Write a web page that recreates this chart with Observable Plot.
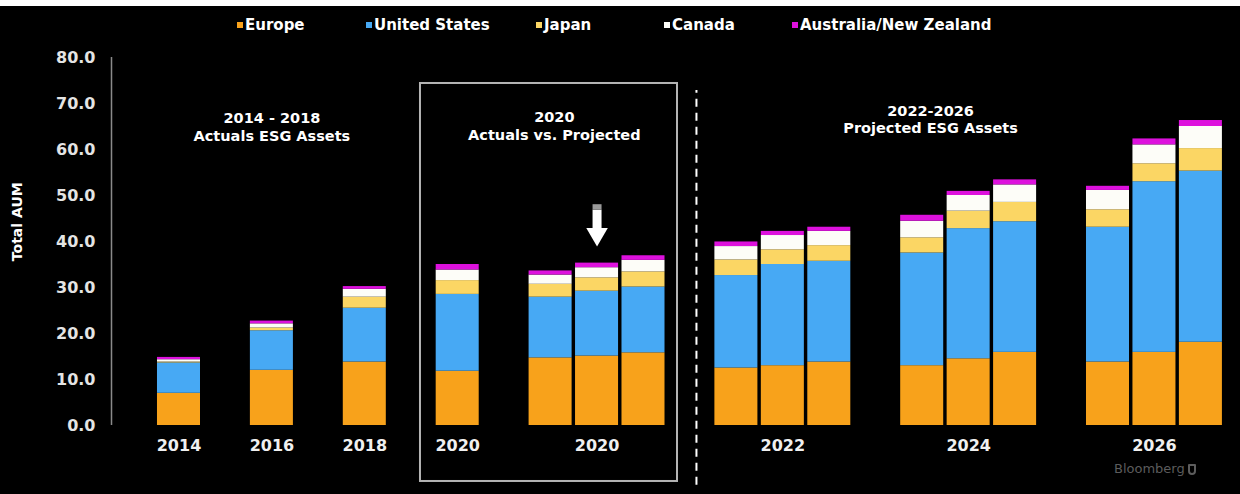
<!DOCTYPE html>
<html>
<head>
<meta charset="utf-8">
<script src="https://cdn.jsdelivr.net/npm/d3@7"></script>
<script src="https://cdn.jsdelivr.net/npm/@observablehq/plot@0.6"></script>
<style>
  html, body { margin: 0; padding: 0; background: #000; width: 1240px; height: 494px; overflow: hidden; }
  #strip { height: 6px; background: #fff; }
  #legend { position: relative; height: 34px; font-family: "DejaVu Sans", sans-serif; font-weight: bold; font-size: 15px; color: #fff; }
  .item { position: absolute; top: 11px; line-height: 16px; white-space: nowrap; }
  .sw { display: inline-block; width: 6px; height: 6px; margin-right: 2px; vertical-align: 2px; }
  #chart { position: relative; }
  #credit { position: absolute; left: 1114px; top: 461px; font-family: "DejaVu Sans", sans-serif; font-size: 13px; color: #5c5c5c; white-space: nowrap; }
  #credit span { display: inline-block; width: 8px; height: 11px; border: 2px solid #5c5c5c; border-radius: 1px 1px 4px 4px; margin-left: 3px; vertical-align: -2px; box-sizing: border-box; }
</style>
</head>
<body>
<div id="strip"></div>
<div id="legend"></div>
<div id="chart"></div>
<div id="credit">Bloomberg<span></span></div>
<script>
// ---- data ----
const seriesNames = ["Europe", "United States", "Japan", "Canada", "Australia/New Zealand"];
const seriesColors = ["#F8A21B", "#47A9F4", "#FBD664", "#FDFDF8", "#DD11DD"];

const bars     = ["2014", "2016", "2018", "2020", "2020 P1", "2020 P2", "2020 P3",
                  "2022 A", "2022 B", "2022 C", "2024 A", "2024 B", "2024 C", "2026 A", "2026 B", "2026 C"];
const barGroup = ["2014", "2016", "2018", "2020", "2020p", "2020p", "2020p",
                  "2022", "2022", "2022", "2024", "2024", "2024", "2026", "2026", "2026"];
const groupIds    = ["2014", "2016", "2018", "2020", "2020p", "2022", "2024", "2026"];
const groupLabels = ["2014", "2016", "2018", "2020", "2020", "2022", "2024", "2026"];

const europe       = [7.0, 12.0, 13.8, 11.8, 14.7, 15.1, 15.8, 12.5, 13.0, 13.8, 13.0, 14.5, 15.9, 13.8, 15.9, 18.1];
const unitedStates = [6.6,  8.6, 11.7, 16.7, 13.2, 14.1, 14.3, 20.1, 22.0, 21.9, 24.5, 28.3, 28.4, 29.3, 37.1, 37.2];
const japan        = [0.2,  0.6,  2.4,  3.0,  2.8,  2.9,  3.3,  3.4,  3.2,  3.4,  3.3,  3.8,  4.2,  3.8,  3.9,  4.9];
const canada       = [0.5,  0.9,  1.7,  2.3,  2.0,  2.2,  2.5,  2.9,  3.1,  3.1,  3.6,  3.4,  3.8,  4.2,  4.1,  4.8];
const ausNz        = [0.5,  0.6,  0.6,  1.2,  0.9,  1.0,  1.0,  1.0,  0.9,  0.9,  1.3,  0.9,  1.1,  0.9,  1.3,  1.3];

const yTicks = [0, 10, 20, 30, 40, 50, 60, 70, 80];

const annotations = [
  {x: 2.0,  y: 65.0, text: "2014 - 2018\nActuals ESG Assets"},
  {x: 8.08, y: 65.2, text: "2020\nActuals vs. Projected"},
  {x: 16.18, y: 66.6, text: "2022-2026\nProjected ESG Assets"}
];

// ---- layout helpers (slot index: one empty slot between groups) ----
const slots = [];
{
  let s = -1, prev = null;
  barGroup.forEach(g => { s += (prev === null || g === prev) ? 1 : 2; prev = g; slots.push(s); });
}
const tickSlots = groupIds.map(g => d3.mean(slots.filter((s, i) => barGroup[i] === g)));
const tickLabel = new Map(tickSlots.map((s, i) => [s, groupLabels[i]]));

const seriesValues = [europe, unitedStates, japan, canada, ausNz];
const table = [];
seriesNames.forEach((name, k) => {
  bars.forEach((b, i) => table.push({bar: b, slot: slots[i], series: name, value: seriesValues[k][i]}));
});

const BAR_HALF = 0.463;
const X_MIN = -1.453, X_MAX = 22.465;
const box = [{x1: 5.199, x2: 10.732, y1: -12.17, y2: 74.35}];
const divider = 11.14;
const arrowAt = 9;
const yTitle = [{x: X_MIN, y: 44.3, text: "Total AUM"}];

// ---- legend ----
const legendLeft = [237, 366, 536, 664, 792];
const legend = document.getElementById("legend");
seriesNames.forEach((name, i) => {
  const el = document.createElement("div");
  el.className = "item";
  el.style.left = legendLeft[i] + "px";
  el.innerHTML = `<span class="sw" style="background:${seriesColors[i]}"></span>${name}`;
  legend.appendChild(el);
});

// ---- chart ----
const chart = Plot.plot({
  width: 1240,
  height: 454,
  marginLeft: 111,
  marginRight: 18,
  marginTop: 17,
  marginBottom: 69,
  style: {background: "#000", color: "#fff", fontFamily: "DejaVu Sans", fontWeight: "bold", overflow: "visible"},
  x: {domain: [X_MIN, X_MAX], axis: null},
  y: {domain: [0, 80], axis: null},
  color: {domain: seriesNames, range: seriesColors},
  marks: [
    Plot.ruleX([X_MIN], {y1: 0, y2: 80, stroke: "#8a8a8a", strokeWidth: 1.5}),
    Plot.axisY({ticks: yTicks, tickSize: 0, tickPadding: 16, tickFormat: d => d.toFixed(1), fontSize: 16, fill: "#e4e4e4"}),
    Plot.axisX({ticks: tickSlots, tickSize: 0, tickPadding: 14, tickFormat: d => tickLabel.get(d), fontSize: 16, fill: "#f0f0f0"}),
    Plot.rectY(table, {x1: d => d.slot - BAR_HALF, x2: d => d.slot + BAR_HALF, y: "value", fill: "series"}),
    Plot.rect(box, {x1: "x1", x2: "x2", y1: "y1", y2: "y2", fill: "none", stroke: "#b4b4b4", strokeWidth: 2}),
    Plot.ruleX([divider], {y1: -13, y2: 72.8, stroke: "#fff", strokeWidth: 2, strokeDasharray: "8,6"}),
    Plot.ruleX([arrowAt], {y1: 42.4, y2: 46.8, stroke: "#fff", strokeWidth: 9}),
    Plot.ruleX([arrowAt], {y1: 46.8, y2: 48.0, stroke: "#9a9a9a", strokeWidth: 9}),
    Plot.dot([arrowAt], {x: d => d, y: 41.6, symbol: "triangle", r: 8, rotate: 180, fill: "#fff", stroke: "none"}),
    Plot.text(annotations, {x: "x", y: "y", text: "text", fontSize: 14.5, lineHeight: 1.2, fill: "#fff"}),
    Plot.text(yTitle, {x: "x", y: "y", text: "text", dx: -94, rotate: -90, fontSize: 14, fill: "#fff"})
  ]
});
document.getElementById("chart").appendChild(chart);
</script>
</body>
</html>
